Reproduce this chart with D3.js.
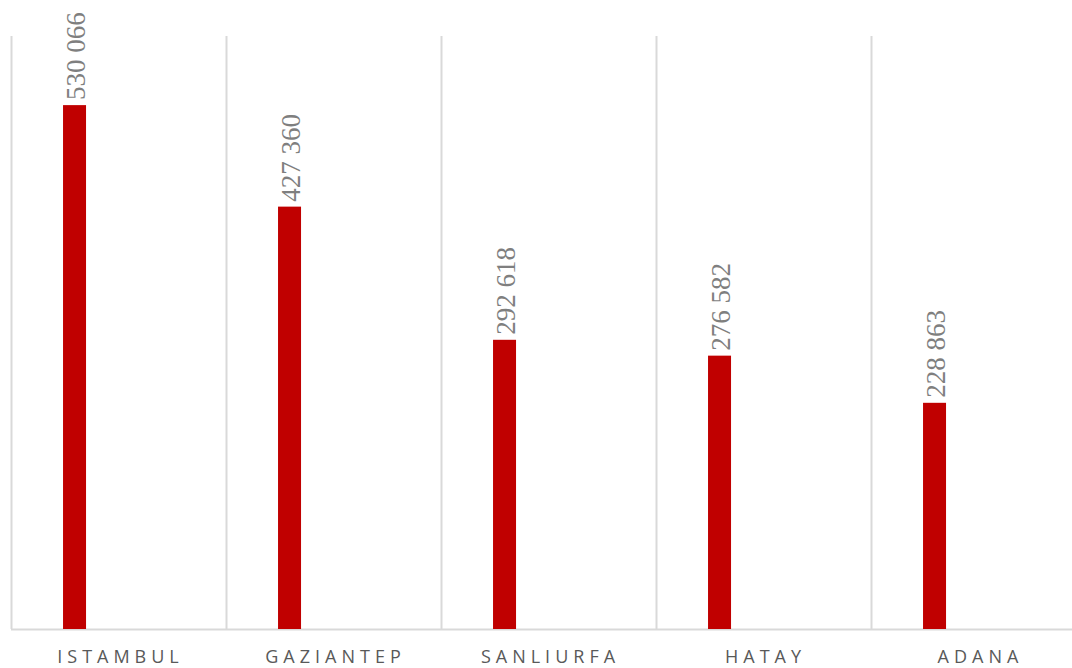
<!DOCTYPE html>
<html>
<head>
<meta charset="utf-8">
<script src="https://cdn.jsdelivr.net/npm/d3@7"></script>
<style>
  body { margin: 0; background: #fff; }
  svg { display: block; }
  .val { font-family: "Liberation Serif", "DejaVu Serif", serif; }
  .cat { font-family: "Open Sans", sans-serif; }
</style>
</head>
<body>
<div id="chart"></div>
<script>
const cities = ["ISTAMBUL", "GAZIANTEP", "SANLIURFA", "HATAY", "ADANA"];
const values = [530066, 427360, 292618, 276582, 228863];

const width = 1072;
const height = 668;
const svg = d3.select("#chart")
              .append("svg")
              .attr("width", width)
              .attr("height", height);

const x = d3.scaleBand()
  .domain(cities)
  .range([11, 1086]);

const y = d3.scaleLinear()
  .domain([0, 600000])
  .range([629, 36]);

const fmt = v => d3.format(",")(v).replace(/,/g, " ");

// vertical gridlines between categories
svg.append("g")
   .selectAll("line")
   .data(cities)
   .enter()
   .append("line")
   .attr("x1", d => x(d) + 0.5)
   .attr("x2", d => x(d) + 0.5)
   .attr("y1", y(600000))
   .attr("y2", y(0))
   .attr("stroke", "#d9d9d9")
   .attr("stroke-width", 2);

// baseline
svg.append("line")
   .attr("x1", 11)
   .attr("x2", width)
   .attr("y1", y(0) + 0.5)
   .attr("y2", y(0) + 0.5)
   .attr("stroke", "#d9d9d9")
   .attr("stroke-width", 2);

const barOffset = x.bandwidth() * 0.242;
const barWidth = x.bandwidth() * 0.107;

svg.append("g")
   .selectAll("rect")
   .data(values)
   .enter()
   .append("rect")
   .attr("x", (d, i) => x(cities[i]) + barOffset)
   .attr("y", d => y(d))
   .attr("width", barWidth)
   .attr("height", d => y(0) - y(d))
   .attr("fill", "#c00000");

// value labels, rotated
svg.append("g")
   .selectAll("text")
   .data(values)
   .enter()
   .append("text")
   .attr("class", "val")
   .attr("transform", (d, i) => `translate(${x(cities[i]) + barOffset + barWidth / 2 + 10},${y(d) - 5}) rotate(-90)`)
   .attr("font-size", 27)
   .attr("fill", "#7f7f7f")
   .text(d => fmt(d));

// category labels
svg.append("g")
   .selectAll("text")
   .data(cities)
   .enter()
   .append("text")
   .attr("class", "cat")
   .attr("x", d => x(d) + x.bandwidth() / 2 + 2)
   .attr("y", 663)
   .attr("text-anchor", "middle")
   .attr("font-size", 18)
   .attr("letter-spacing", 5)
   .attr("fill", "#595959")
   .text(d => d);
</script>
</body>
</html>
